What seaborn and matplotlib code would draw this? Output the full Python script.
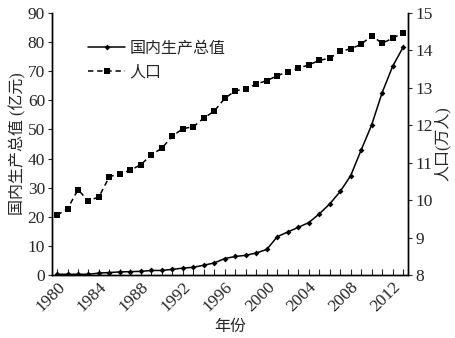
import numpy as np
import pandas as pd
import matplotlib
matplotlib.use("Agg")
import matplotlib.pyplot as plt
import seaborn as sns

years = list(range(1980, 2014))
gdp = [0.3, 0.3, 0.3, 0.3, 0.7, 0.9, 1.1, 1.2, 1.3, 1.6,
       1.6, 2.0, 2.4, 2.7, 3.4, 4.2, 5.7, 6.4, 6.8, 7.6,
       8.8, 13.2, 14.8, 16.4, 18.0, 21.0, 24.4, 28.7, 34.1, 42.9,
       51.5, 62.6, 71.6, 78.2]
population = [9.60, 9.77, 10.28, 9.98, 10.09, 10.63, 10.70, 10.80, 10.95, 11.21,
              11.39, 11.71, 11.91, 11.96, 12.19, 12.38, 12.72, 12.92, 12.97, 13.10,
              13.19, 13.32, 13.43, 13.52, 13.61, 13.73, 13.79, 13.97, 14.04, 14.16,
              14.39, 14.19, 14.32, 14.47]
xticks = [1980, 1984, 1988, 1992, 1996, 2000, 2004, 2008, 2012]

df = pd.DataFrame({"year": years, "gdp": gdp, "pop": population})

sns.set_style("ticks")
plt.rcParams["font.family"] = ["Liberation Serif", "Noto Sans CJK SC"]
plt.rcParams["axes.linewidth"] = 1.0

fig = plt.figure(figsize=(4.56, 3.38), dpi=100)
ax = fig.add_axes([0.114, 0.186, 0.781, 0.776])
ax2 = ax.twinx()

sns.lineplot(data=df, x="year", y="gdp", ax=ax, color="black", linewidth=1.1,
             marker="D", markersize=3, markeredgewidth=0, label="国内生产总值",
             legend=False)
sns.lineplot(data=df, x="year", y="pop", ax=ax2, color="black", linewidth=1.1,
             linestyle=(0, (3.5, 2.5)), marker="s", markersize=4,
             markeredgewidth=0, label="人口", legend=False)

ax.set_xlim(1979.52, 2013.48)
ax.set_ylim(0, 90)
ax2.set_ylim(8, 15)
ax.set_yticks(range(0, 91, 10))
ax2.set_yticks(range(8, 16))
ax.set_xticks(xticks)
ax.set_xticks(years, minor=True)
ax.set_xticklabels([str(y) for y in xticks], rotation=45, ha="right",
                   rotation_mode="anchor", fontsize=12.5)
ax.tick_params(axis="x", which="both", direction="in", length=4, width=0.8,
               pad=3)
ax.tick_params(axis="y", direction="out", length=3, width=0.8, labelsize=12.5,
               pad=2)
ax2.tick_params(axis="y", direction="out", length=3, width=0.8, labelsize=12.5,
                pad=2)

for a in (ax, ax2):
    a.spines["top"].set_visible(False)
    for s in ("left", "right", "bottom"):
        a.spines[s].set_color("black")

ax.set_xlabel("年份", fontsize=11.5, labelpad=3)
ax.set_ylabel("国内生产总值 (亿元)", fontsize=11.5, labelpad=1)
ax2.set_ylabel("人口(万人)", fontsize=11.5, labelpad=1)

h1, l1 = ax.get_legend_handles_labels()
h2, l2 = ax2.get_legend_handles_labels()
ax.legend(h1 + h2, l1 + l2, loc="upper left", bbox_to_anchor=(0.062, 0.95),
          frameon=False, fontsize=11.5, handlelength=2.3, handletextpad=0.25,
          labelspacing=0.5)

fig.savefig("out.png", dpi=100)
